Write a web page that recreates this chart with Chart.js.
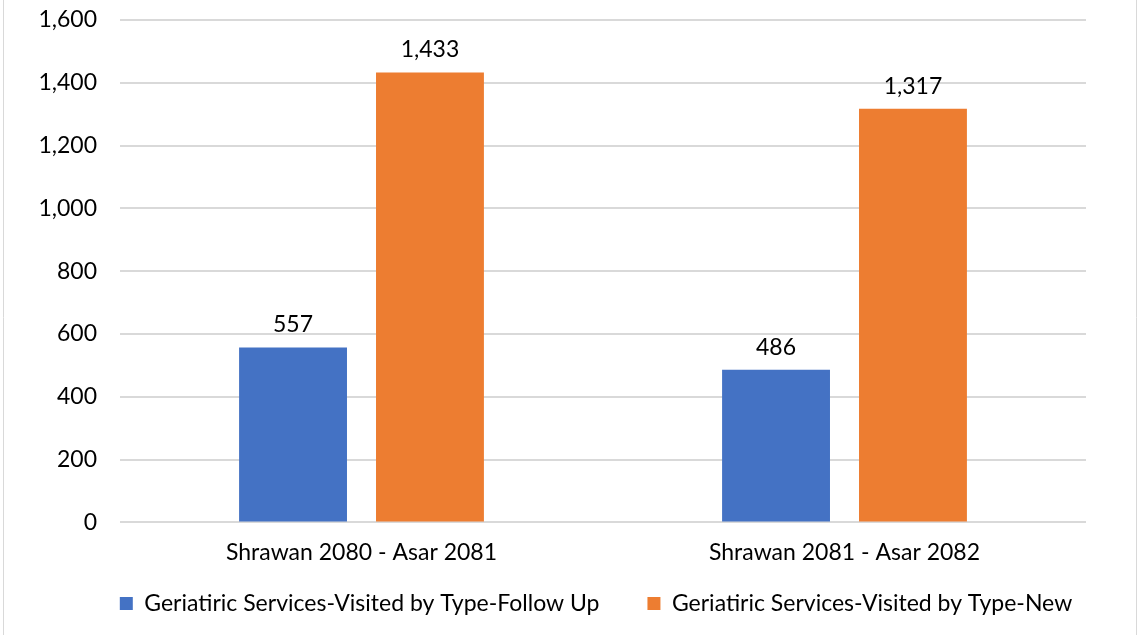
<!DOCTYPE html>
<html><head><meta charset="utf-8">
<script src="https://cdn.jsdelivr.net/npm/chart.js@4"></script>
<style>html,body{margin:0;padding:0;background:#fff}#wrap{width:1138px;height:635px}</style>
</head><body><div id="wrap"><canvas id="c" width="1138" height="635"></canvas></div>
<script>
const categories = ["Shrawan 2080 - Asar 2081", "Shrawan 2081 - Asar 2082"];
const followUp = [557, 486];
const newVisits = [1433, 1317];
const seriesNames = ["Geriatiric Services-Visited by Type-Follow Up", "Geriatiric Services-Visited by Type-New"];
const FONT = "Lato, 'Open Sans', sans-serif";
const FS = 23;
const LEGEND_TRIM = 38;

const valueLabels = {
  id: 'valueLabels',
  afterDatasetsDraw(chart) {
    const ctx = chart.ctx;
    ctx.save();
    ctx.font = FS + "px " + FONT;
    ctx.fillStyle = '#000';
    ctx.textAlign = 'center';
    ctx.textBaseline = 'bottom';
    chart.data.datasets.forEach((ds, i) => {
      chart.getDatasetMeta(i).data.forEach((bar, j) => {
        ctx.fillText(ds.data[j].toLocaleString('en-US'), bar.x, bar.y - 11);
      });
    });
    ctx.restore();
  }
};
const frame = {
  id: 'frame',
  beforeDraw(chart) {
    const ctx = chart.ctx;
    ctx.save();
    ctx.strokeStyle = '#d9d9d9';
    ctx.lineWidth = 1;
    ctx.beginPath();
    ctx.moveTo(3.5, 0); ctx.lineTo(3.5, 635);
    ctx.moveTo(1136.5, 0); ctx.lineTo(1136.5, 635);
    ctx.stroke();
    ctx.restore();
  }
};
const legendShift = {
  id: 'legendShift',
  beforeLayout(chart) {
    const lg = chart.legend;
    if (lg && !lg._patched) {
      const orig = lg.fit;
      lg.fit = function () { orig.call(this); this.height -= LEGEND_TRIM; };
      lg._patched = true;
    }
  },
  afterLayout(chart) {
    const lg = chart.legend;
    if (lg) {
      lg.left += 53; lg.right += 53;
      lg.top -= LEGEND_TRIM; lg.bottom = chart.height;
    }
  }
};

new Chart(document.getElementById('c'), {
  type: 'bar',
  data: {
    labels: categories,
    datasets: [
      { label: seriesNames[0], data: followUp, backgroundColor: '#4472c4', categoryPercentage: 0.567, barPercentage: 0.788 },
      { label: seriesNames[1], data: newVisits, backgroundColor: '#ed7d31', categoryPercentage: 0.567, barPercentage: 0.788 }
    ]
  },
  options: {
    responsive: false,
    animation: false,
    layout: { padding: { top: 20, right: 52, left: 0, bottom: 10 } },
    plugins: {
      legend: {
        position: 'bottom',
        labels: { boxWidth: 13, boxHeight: 13, padding: 48, color: '#000', font: { family: FONT, size: FS } }
      },
      tooltip: { enabled: false }
    },
    scales: {
      x: {
        grid: { display: false, drawTicks: false },
        border: { display: false },
        ticks: { color: '#000', padding: 16, font: { family: FONT, size: FS } }
      },
      y: {
        min: 0, max: 1600,
        afterFit(s) { s.width = 120; s.paddingTop = 0; s.paddingBottom = 0; },
        grid: { color: '#d9d9d9', lineWidth: 2, drawTicks: false },
        border: { display: false },
        ticks: { stepSize: 200, color: '#000', padding: 23, font: { family: FONT, size: FS },
          callback: v => v.toLocaleString('en-US') }
      }
    }
  },
  plugins: [valueLabels, frame, legendShift]
});
</script></body></html>
